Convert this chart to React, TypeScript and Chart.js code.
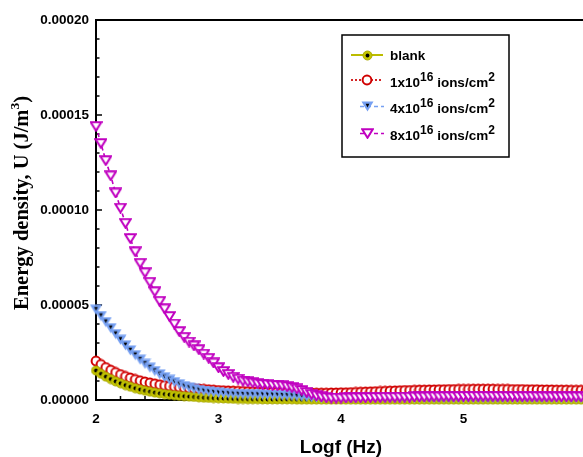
import React, { useEffect, useRef } from 'react';
import { Chart, registerables } from 'chart.js';
Chart.register(...registerables);

// log10 of frequency (Hz)
const logf = [
  2.0, 2.04, 2.08, 2.12, 2.16, 2.2, 2.24, 2.28, 2.32, 2.36,
  2.4, 2.44, 2.48, 2.52, 2.56, 2.6, 2.64, 2.68, 2.72, 2.76,
  2.8, 2.84, 2.88, 2.92, 2.96, 3.0, 3.04, 3.08, 3.12, 3.16,
  3.2, 3.24, 3.28, 3.32, 3.36, 3.4, 3.44, 3.48, 3.52, 3.56,
  3.6, 3.64, 3.68, 3.72, 3.76, 3.8, 3.84, 3.88, 3.92, 3.96,
  4.0, 4.04, 4.08, 4.12, 4.16, 4.2, 4.24, 4.28, 4.32, 4.36,
  4.4, 4.44, 4.48, 4.52, 4.56, 4.6, 4.64, 4.68, 4.72, 4.76,
  4.8, 4.84, 4.88, 4.92, 4.96, 5.0, 5.04, 5.08, 5.12, 5.16,
  5.2, 5.24, 5.28, 5.32, 5.36, 5.4, 5.44, 5.48, 5.52, 5.56,
  5.6, 5.64, 5.68, 5.72, 5.76, 5.8, 5.84, 5.88, 5.92, 5.96, 6.0,
];

// Energy density values in units of 1e-5 J/m^3
const blankE5 = [
  1.55, 1.38, 1.23, 1.10, 0.98, 0.88, 0.78, 0.70, 0.62, 0.55,
  0.49, 0.44, 0.39, 0.35, 0.31, 0.28, 0.25, 0.22, 0.20, 0.18,
  0.16, 0.14, 0.12, 0.11, 0.10, 0.09, 0.08, 0.07, 0.06, 0.05,
  0.05, 0.04, 0.04, 0.04, 0.03, 0.03, 0.03, 0.03, 0.03, 0.03,
  0.03, 0.02, 0.02, 0.02, 0.02, 0.02, 0.02, 0.02, 0.02, 0.02,
  0.02, 0.02, 0.02, 0.02, 0.02, 0.02, 0.02, 0.02, 0.02, 0.02,
  0.02, 0.02, 0.02, 0.02, 0.02, 0.02, 0.02, 0.02, 0.02, 0.02,
  0.02, 0.02, 0.02, 0.02, 0.02, 0.02, 0.02, 0.02, 0.02, 0.02,
  0.02, 0.02, 0.02, 0.02, 0.02, 0.02, 0.02, 0.02, 0.02, 0.02,
  0.02, 0.02, 0.02, 0.02, 0.02, 0.02, 0.02, 0.02, 0.02, 0.02, 0.02,
];

const dose1E5 = [
  2.05, 1.87, 1.71, 1.57, 1.45, 1.34, 1.24, 1.16, 1.08, 1.01,
  0.95, 0.90, 0.85, 0.80, 0.76, 0.73, 0.70, 0.67, 0.64, 0.62,
  0.60, 0.58, 0.56, 0.54, 0.52, 0.50, 0.49, 0.48, 0.47, 0.46,
  0.45, 0.44, 0.43, 0.43, 0.42, 0.42, 0.41, 0.41, 0.40, 0.40,
  0.39, 0.38, 0.38, 0.37, 0.37, 0.36, 0.36, 0.36, 0.37, 0.37,
  0.38, 0.38, 0.39, 0.40, 0.41, 0.42, 0.43, 0.44, 0.45, 0.46,
  0.47, 0.48, 0.49, 0.50, 0.50, 0.51, 0.52, 0.52, 0.53, 0.53,
  0.54, 0.54, 0.55, 0.55, 0.56, 0.56, 0.56, 0.57, 0.57, 0.57,
  0.57, 0.57, 0.56, 0.56, 0.56, 0.55, 0.55, 0.55, 0.54, 0.54,
  0.54, 0.53, 0.53, 0.53, 0.52, 0.52, 0.52, 0.51, 0.51, 0.51, 0.50,
];

const dose4E5 = [
  4.75, 4.42, 4.10, 3.78, 3.47, 3.17, 2.88, 2.61, 2.36, 2.12,
  1.90, 1.70, 1.52, 1.35, 1.20, 1.06, 0.94, 0.83, 0.73, 0.65,
  0.58, 0.52, 0.47, 0.43, 0.40, 0.37, 0.35, 0.33, 0.31, 0.30,
  0.29, 0.28, 0.28, 0.27, 0.27, 0.26, 0.26, 0.25, 0.24, 0.23,
  0.22, 0.20, 0.18, 0.16, 0.14, 0.12, 0.10, 0.09, 0.08, 0.08,
  0.08, 0.08, 0.08, 0.08, 0.08, 0.08, 0.09, 0.09, 0.09, 0.09,
  0.09, 0.09, 0.09, 0.09, 0.09, 0.10, 0.10, 0.10, 0.10, 0.10,
  0.10, 0.10, 0.10, 0.10, 0.10, 0.10, 0.10, 0.10, 0.10, 0.10,
  0.10, 0.10, 0.10, 0.10, 0.10, 0.10, 0.10, 0.10, 0.10, 0.10,
  0.10, 0.10, 0.10, 0.10, 0.10, 0.10, 0.10, 0.10, 0.10, 0.10, 0.10,
];

const dose8E5 = [
  14.4, 13.5, 12.6, 11.8, 10.9, 10.1, 9.3, 8.5, 7.8, 7.2,
  6.7, 6.2, 5.7, 5.2, 4.8, 4.4, 4.0, 3.6, 3.3, 3.05,
  2.85, 2.65, 2.42, 2.2, 1.95, 1.7, 1.5, 1.35, 1.2, 1.1,
  1.0, 0.95, 0.9, 0.85, 0.82, 0.8, 0.78, 0.76, 0.74, 0.7,
  0.65, 0.58, 0.5, 0.4, 0.3, 0.22, 0.16, 0.12, 0.10, 0.10,
  0.10, 0.11, 0.11, 0.12, 0.12, 0.12, 0.13, 0.13, 0.13, 0.14,
  0.14, 0.14, 0.15, 0.15, 0.15, 0.16, 0.16, 0.16, 0.17, 0.17,
  0.17, 0.18, 0.18, 0.18, 0.18, 0.19, 0.19, 0.19, 0.19, 0.19,
  0.19, 0.19, 0.19, 0.19, 0.18, 0.18, 0.18, 0.18, 0.18, 0.18,
  0.18, 0.18, 0.17, 0.17, 0.17, 0.17, 0.17, 0.17, 0.17, 0.17, 0.17,
];

const xTickValues = [2, 3, 4, 5];
const yTickLabels = ['0.00000', '0.00005', '0.00010', '0.00015', '0.00020'];

const SANS = '"Liberation Sans", Arial, sans-serif';
const SERIF = '"Liberation Serif", "Times New Roman", serif';

function makeMarker(w: number, h: number, draw: (c: CanvasRenderingContext2D) => void) {
  const c = document.createElement('canvas');
  c.width = w;
  c.height = h;
  const ctx = c.getContext('2d')!;
  draw(ctx);
  return c;
}

export default function App() {
  const ref = useRef<HTMLCanvasElement>(null);

  useEffect(() => {
    const mBlank = makeMarker(11, 11, (c) => {
      c.beginPath();
      c.arc(5.5, 5.5, 4.5, 0, Math.PI * 2);
      c.fillStyle = '#c4c400';
      c.fill();
      c.lineWidth = 1;
      c.strokeStyle = '#a8a800';
      c.stroke();
      c.beginPath();
      c.arc(5.5, 5.5, 1.9, 0, Math.PI * 2);
      c.fillStyle = '#000';
      c.fill();
    });
    const mRed = makeMarker(12, 12, (c) => {
      c.beginPath();
      c.arc(6, 6, 4.4, 0, Math.PI * 2);
      c.fillStyle = '#fff';
      c.fill();
      c.lineWidth = 2;
      c.strokeStyle = '#d00000';
      c.stroke();
    });
    const mBlue = makeMarker(13, 11, (c) => {
      c.beginPath();
      c.moveTo(0.5, 0.5);
      c.lineTo(12.5, 0.5);
      c.lineTo(6.5, 10.5);
      c.closePath();
      c.fillStyle = '#76a0f2';
      c.fill();
      c.beginPath();
      c.moveTo(4.6, 2.8);
      c.lineTo(8.4, 2.8);
      c.lineTo(6.5, 6.6);
      c.closePath();
      c.fillStyle = '#000';
      c.fill();
    });
    const mMag = makeMarker(13, 11, (c) => {
      c.beginPath();
      c.moveTo(1.2, 1.2);
      c.lineTo(11.8, 1.2);
      c.lineTo(6.5, 9.8);
      c.closePath();
      c.fillStyle = '#fff';
      c.fill();
      c.lineWidth = 2;
      c.lineJoin = 'miter';
      c.strokeStyle = '#c000c0';
      c.stroke();
    });

    const series = [
      { label: 'blank', values: blankE5, color: '#bcbc00', dash: [] as number[], marker: mBlank, order: 2 },
      { label: '1x10^16 ions/cm^2', values: dose1E5, color: '#cc0000', dash: [2, 2], marker: mRed, order: 3 },
      { label: '4x10^16 ions/cm^2', values: dose4E5, color: '#76a0f2', dash: [4, 3], marker: mBlue, order: 1 },
      { label: '8x10^16 ions/cm^2', values: dose8E5, color: '#c000c0', dash: [4, 3], marker: mMag, order: 0 },
    ];

    const framePlugin = {
      id: 'frame',
      beforeDatasetsDraw(chart: any) {
        const { ctx, chartArea, scales } = chart;
        const xs = scales.x;
        const ys = scales.y;
        ctx.save();
        ctx.strokeStyle = '#000';
        ctx.lineWidth = 2;
        ctx.beginPath();
        ctx.moveTo(chartArea.right + 10, chartArea.top);
        ctx.lineTo(chartArea.left, chartArea.top);
        ctx.lineTo(chartArea.left, chartArea.bottom);
        ctx.lineTo(chartArea.right + 10, chartArea.bottom);
        ctx.stroke();
        ctx.lineWidth = 1.5;
        for (let k = 0; k <= 20; k++) {
          const y = ys.getPixelForValue(k * 1e-5);
          const len = k % 5 === 0 ? 6 : 3.5;
          ctx.beginPath();
          ctx.moveTo(chartArea.left, y);
          ctx.lineTo(chartArea.left + len, y);
          ctx.stroke();
        }
        for (let k = 0; k <= 20; k++) {
          const x = xs.getPixelForValue(2 + k * 0.2);
          const len = k % 5 === 0 ? 6 : 4;
          ctx.beginPath();
          ctx.moveTo(x, chartArea.bottom);
          ctx.lineTo(x, chartArea.bottom - len);
          ctx.stroke();
        }
        ctx.restore();
      },
    };

    type Part = { t: string; size: number; raise: number; family: string };
    const drawParts = (ctx: CanvasRenderingContext2D, x: number, y: number, parts: Part[]) => {
      let cx = x;
      for (const p of parts) {
        ctx.font = `bold ${p.size}px ${p.family}`;
        ctx.fillText(p.t, cx, y - p.raise);
        cx += ctx.measureText(p.t).width;
      }
      return cx - x;
    };
    const measureParts = (ctx: CanvasRenderingContext2D, parts: Part[]) => {
      let w = 0;
      for (const p of parts) {
        ctx.font = `bold ${p.size}px ${p.family}`;
        w += ctx.measureText(p.t).width;
      }
      return w;
    };

    const textPlugin = {
      id: 'texts',
      afterDraw(chart: any) {
        const { ctx, chartArea } = chart;
        ctx.save();
        ctx.fillStyle = '#000';
        ctx.textBaseline = 'alphabetic';
        ctx.textAlign = 'left';

        // x title
        const xParts = [{ t: 'Logf (Hz)', size: 19, raise: 0, family: SANS }];
        const xw = measureParts(ctx, xParts);
        drawParts(ctx, (chartArea.left + chartArea.right) / 2 - xw / 2, 453, xParts);

        // y title (rotated)
        const yParts = [
          { t: 'Energy density, U (J/m', size: 20.5, raise: 0, family: SERIF },
          { t: '3', size: 13.5, raise: 9, family: SERIF },
          { t: ')', size: 20.5, raise: 0, family: SERIF },
        ];
        const yw = measureParts(ctx, yParts);
        ctx.save();
        ctx.translate(28, 203);
        ctx.rotate(-Math.PI / 2);
        drawParts(ctx, -yw / 2, 0, yParts);
        ctx.restore();

        // legend box
        ctx.strokeStyle = '#000';
        ctx.lineWidth = 1.5;
        ctx.strokeRect(342, 35, 167, 122);

        const sup = (a: string): Part[] => [
          { t: a, size: 13.5, raise: 0, family: SANS },
          { t: '16', size: 12, raise: 6, family: SANS },
          { t: ' ions/cm', size: 13.5, raise: 0, family: SANS },
          { t: '2', size: 12, raise: 6, family: SANS },
        ];
        const rows = [
          { s: series[0], y: 55, base: 60, x1: 351, x2: 383, parts: [{ t: 'blank', size: 13.5, raise: 0, family: SANS }] },
          { s: series[1], y: 80, base: 86.5, x1: 351, x2: 381, parts: sup('1x10') },
          { s: series[2], y: 106.5, base: 113, x1: 360, x2: 384, parts: sup('4x10') },
          { s: series[3], y: 133.5, base: 140, x1: 360, x2: 384, parts: sup('8x10') },
        ];
        for (const r of rows) {
          ctx.save();
          ctx.strokeStyle = r.s.color;
          ctx.lineWidth = r.s.label === 'blank' ? 2 : 1.7;
          ctx.setLineDash(r.s.dash);
          ctx.beginPath();
          ctx.moveTo(r.x1, r.y);
          ctx.lineTo(r.x2, r.y);
          ctx.stroke();
          ctx.restore();
          const m = r.s.marker;
          ctx.drawImage(m, Math.round(367 - m.width / 2), Math.round(r.y - m.height / 2));
          ctx.fillStyle = '#000';
          drawParts(ctx, 390, r.base, r.parts);
        }
        ctx.restore();
      },
    };

    const tickFont = { family: SANS, size: 13.5, weight: 'bold' as const };

    const chart = new Chart(ref.current!, {
      type: 'line',
      data: {
        datasets: series.map((s) => ({
          label: s.label,
          data: s.values.map((v, i) => ({ x: logf[i], y: v * 1e-5 })),
          borderColor: s.color,
          backgroundColor: s.color,
          borderWidth: 1.6,
          borderDash: s.dash,
          pointStyle: s.marker as any,
          pointRadius: 5,
          pointHoverRadius: 5,
          order: s.order,
          clip: false as any,
          tension: 0,
          fill: false,
        })),
      },
      options: {
        animation: false,
        responsive: true,
        maintainAspectRatio: false,
        events: [],
        layout: { padding: { top: 20, right: 14, left: 0, bottom: 0 } },
        plugins: { legend: { display: false }, tooltip: { enabled: false } },
        scales: {
          x: {
            type: 'linear',
            min: 2,
            max: 6,
            afterFit: (s: any) => { s.height = 57; },
            afterBuildTicks: (s: any) => { s.ticks = xTickValues.map((v) => ({ value: v })); },
            grid: { display: false, drawTicks: false, tickLength: 0 },
            border: { display: false },
            ticks: {
              padding: 11,
              color: '#000',
              font: tickFont,
              maxRotation: 0,
              autoSkip: false,
              callback: (v: any) => String(v),
            },
          },
          y: {
            type: 'linear',
            min: 0,
            max: 0.0002,
            afterFit: (s: any) => { s.width = 96; },
            afterBuildTicks: (s: any) => { s.ticks = yTickLabels.map((t) => ({ value: parseFloat(t) })); },
            grid: { display: false, drawTicks: false, tickLength: 0 },
            border: { display: false },
            ticks: {
              padding: 7,
              color: '#000',
              font: tickFont,
              autoSkip: false,
              callback: (v: any) => Number(v).toFixed(5),
            },
          },
        },
      } as any,
      plugins: [framePlugin, textPlugin],
    });
    return () => chart.destroy();
  }, []);

  return (
    <div style={{ position: 'fixed', left: 0, top: 0, width: 583, height: 457, overflow: 'hidden', background: '#fff' }}>
      <div style={{ position: 'relative', width: 600, height: 457 }}>
        <canvas ref={ref} />
      </div>
    </div>
  );
}
